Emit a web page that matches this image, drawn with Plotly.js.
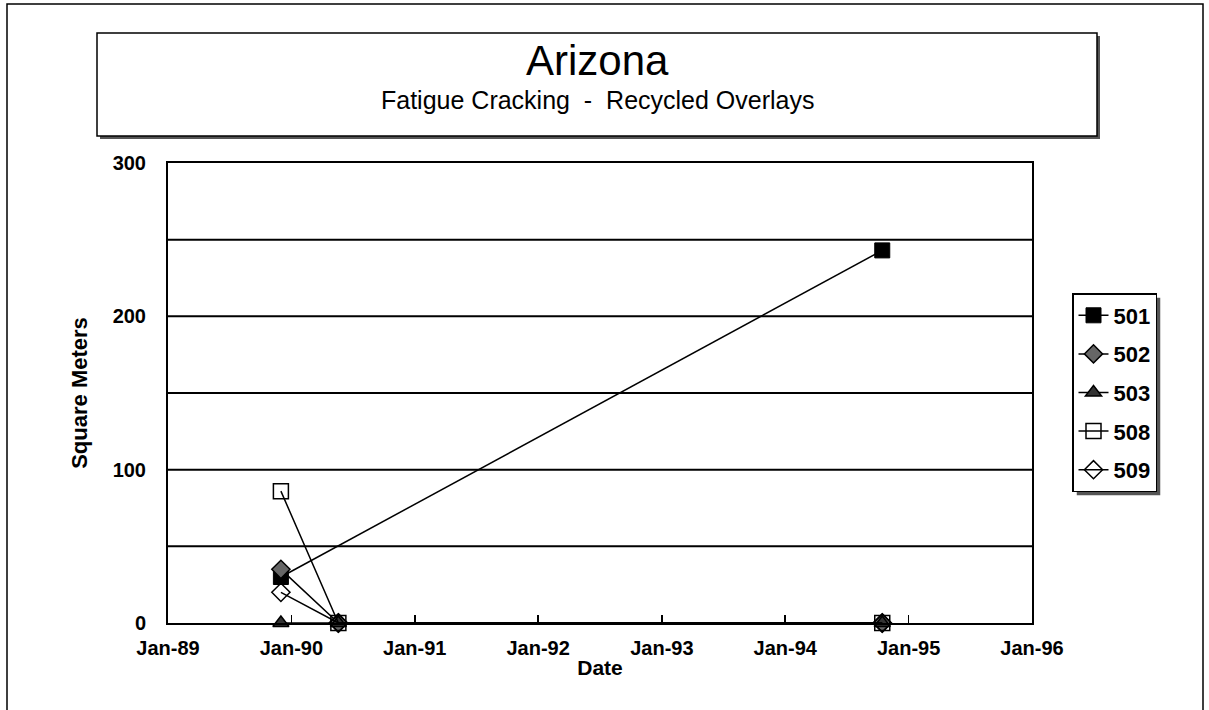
<!DOCTYPE html>
<html>
<head>
<meta charset="utf-8">
<script src="https://cdn.plot.ly/plotly-3.0.1.min.js"></script>
<style>html,body{margin:0;padding:0;background:#fff;}#chart{width:1209px;height:710px;}</style>
</head>
<body>
<div id="chart"></div>
<script>
// ---- data ----
const dates3 = ['1989-12-01', '1990-05-20', '1994-10-15'];
const dates501 = ['1989-12-01', '1994-10-15'];
const s501 = [30, 243];
const s502 = [35, 0, 0];
const s503 = [0, 0, 0];
const s508 = [86, 0, 0];
const s509 = [20, 0, 0];
const seriesNames = ['501', '502', '503', '508', '509'];
const xTickRange = ['1989-01-01', '1996-01-01'];
const chartTitle = 'Arizona';
const chartSubtitle = 'Fatigue Cracking&nbsp;&nbsp;-&nbsp;&nbsp;Recycled Overlays';
const xTitle = 'Date';
const yTitle = 'Square Meters';

// ---- layout geometry (pixels) ----
const W = 1209, H = 710;
const L = 168, R = 1032, T = 163, B = 623;
const px = x => (x - L) / (R - L);
const py = y => (B - y) / (B - T);
const FONT = '"Liberation Sans", Arial, sans-serif';

const lineStyle = {color: '#000', width: 1.5};
function tr(name, x, y, marker) {
  return {type: 'scatter', mode: 'lines+markers', name: name, x: x, y: y,
    line: lineStyle, marker: marker, cliponaxis: false, legendgroup: name};
}
const traces = [
  tr(seriesNames[0], dates501, s501, {symbol: 'square', size: 15, color: '#000', line: {color: '#000', width: 1}}),
  tr(seriesNames[1], dates3, s502, {symbol: 'diamond', size: 14, color: '#666', line: {color: '#000', width: 1.5}}),
  tr(seriesNames[2], dates3, s503, {symbol: 'triangle-up', size: 14, color: '#333', line: {color: '#000', width: 1.5}}),
  tr(seriesNames[3], dates3, s508, {symbol: 'square-open', size: 15, color: '#000', line: {color: '#000', width: 1.5}}),
  tr(seriesNames[4], dates3, s509, {symbol: 'diamond-open', size: 14, color: '#000', line: {color: '#000', width: 1.5}})
];

const shapes = [
  // outer frame
  {type: 'rect', xref: 'paper', yref: 'paper', x0: px(7), x1: px(1203), y0: py(712), y1: py(4),
   line: {color: '#000', width: 1.5}, fillcolor: 'rgba(0,0,0,0)', layer: 'below'},
  // title box shadow
  {type: 'rect', xref: 'paper', yref: 'paper', x0: px(100), x1: px(1100), y0: py(139), y1: py(36),
   line: {color: '#555', width: 0}, fillcolor: '#555', layer: 'below'},
  // title box
  {type: 'rect', xref: 'paper', yref: 'paper', x0: px(97), x1: px(1097), y0: py(136), y1: py(33),
   line: {color: '#000', width: 1.5}, fillcolor: '#fff', layer: 'below'}
];

const annotations = [
  {xref: 'paper', yref: 'paper', x: px(597), y: py(61), text: chartTitle, showarrow: false,
   xanchor: 'center', yanchor: 'middle', font: {family: FONT, size: 42, color: '#000'}},
  {xref: 'paper', yref: 'paper', x: px(597), y: py(100), text: chartSubtitle, showarrow: false,
   xanchor: 'center', yanchor: 'middle', font: {family: FONT, size: 25, color: '#000'}}
];

const layout = {
  width: W, height: H,
  margin: {l: L, r: W - R, t: T, b: H - B, pad: 0},
  paper_bgcolor: '#fff', plot_bgcolor: '#fff',
  font: {family: FONT, color: '#000'},
  showlegend: true,
  legend: {x: px(1072), y: py(293), xanchor: 'left', yanchor: 'top',
    bordercolor: '#000', borderwidth: 1.5, bgcolor: '#fff',
    font: {family: FONT, size: 22, color: '#000', weight: 'bold'},
    tracegroupgap: 7, traceorder: 'grouped', itemwidth: 30},
  xaxis: {type: 'date', range: xTickRange, dtick: 'M12', tick0: '1989-01-01', tickformat: '%b-%y',
    showgrid: false, zeroline: false, showline: true, mirror: true, linecolor: '#000', linewidth: 2,
    ticks: 'inside', ticklen: 8, tickwidth: 1.5, tickcolor: '#000', ticklabelstandoff: 6,
    tickfont: {family: FONT, size: 20, weight: 'bold'},
    title: {text: xTitle, font: {family: FONT, size: 21, weight: 'bold'}, standoff: 2}},
  yaxis: {range: [0, 300], tickvals: [0, 100, 200, 300], ticktext: ['0', '100', '200', '300'],
    showgrid: false, zeroline: false, showline: true, mirror: true, linecolor: '#000', linewidth: 2,
    ticks: '', ticklabelstandoff: 16,
    tickfont: {family: FONT, size: 20, weight: 'bold'},
    title: {text: yTitle, font: {family: FONT, size: 22, weight: 'bold'}, standoff: 19}},
  shapes: shapes.concat([50, 100, 150, 200, 250].map(v => ({
    type: 'line', xref: 'paper', yref: 'y', x0: 0, x1: 1, y0: v, y1: v,
    line: {color: '#000', width: 2}, layer: 'below'}))),
  annotations: annotations
};

Plotly.newPlot('chart', traces, layout, {displayModeBar: false, staticPlot: true}).then(gd => {
  // legend drop shadow sized from the drawn legend box
  const bg = gd.querySelector('.legend .bg');
  if (!bg) return;
  const r = bg.getBoundingClientRect();
  const host = gd.getBoundingClientRect();
  const x0 = r.left - host.left, y0 = r.top - host.top, x1 = x0 + r.width, y1 = y0 + r.height;
  const sh = {type: 'rect', xref: 'paper', yref: 'paper', x0: px(x0 + 4), x1: px(x1 + 4), y0: py(y1 + 4), y1: py(y0 + 4),
    line: {width: 0}, fillcolor: '#555', layer: 'below'};
  Plotly.relayout(gd, {shapes: gd.layout.shapes.concat([sh])});
});
</script>
</body>
</html>
